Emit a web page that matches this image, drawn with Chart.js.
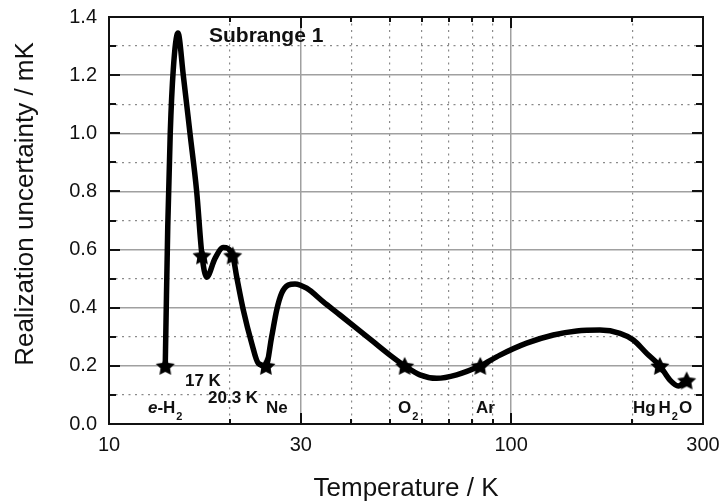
<!DOCTYPE html>
<html>
<head>
<meta charset="utf-8">
<script src="https://cdn.jsdelivr.net/npm/chart.js@4.4.0/dist/chart.umd.min.js"></script>
<style>
    html, body { margin: 0; padding: 0; background: #fff; }
    #chartWrap { width: 723px; height: 502px; }
</style>
</head>
<body>
<div id="chartWrap"><canvas id="incertidumbreChart" width="723" height="502"></canvas></div>
<script>
// Datos
const curveTemperatures = [13.8, 13.86, 14.0, 14.2, 14.45, 14.84, 15.30, 15.90, 16.52, 17.03,
    17.50, 18.35, 19.24, 20.3, 20.77, 21.58, 22.64, 23.50, 24.56, 25.38,
    26.12, 26.88, 27.92, 29.01, 31.01, 34.12, 37.53, 41.30, 45.41, 49.96,
    54.36, 59.33, 65.29, 73.19, 83.8, 93.8, 109.3, 127.3, 145.6, 166.3,
    186.5, 201.3, 217.3, 234.3, 248.3, 260.4, 273.16];
const curveUncertainties = [0.2, 0.35, 0.68, 1.0, 1.22, 1.345, 1.2, 1.0, 0.8, 0.58,
    0.505, 0.57, 0.607, 0.58, 0.507, 0.392, 0.278, 0.209, 0.2, 0.30,
    0.392, 0.45, 0.478, 0.482, 0.467, 0.42, 0.375, 0.329, 0.283, 0.237,
    0.2, 0.169, 0.157, 0.169, 0.2, 0.237, 0.278, 0.306, 0.32, 0.323,
    0.312, 0.289, 0.243, 0.2, 0.151, 0.131, 0.151];

const fixedPointTemperatures = [13.8, 17.03, 20.3, 24.56, 54.36, 83.8, 234.3, 273.16];
const fixedPointUncertainties = [0.2, 0.58, 0.58, 0.2, 0.2, 0.2, 0.2, 0.15];

const xTickValues = [10, 20, 30, 40, 50, 60, 70, 80, 90, 100, 200, 300];
const xTickLabels = ['10', '', '30', '', '', '', '', '', '', '100', '', '300'];
const yTickValues = [0, 0.1, 0.2, 0.3, 0.4, 0.5, 0.6, 0.7, 0.8, 0.9, 1.0, 1.1, 1.2, 1.3, 1.4];
const yTickLabels = ['0.0', '', '0.2', '', '0.4', '', '0.6', '', '0.8', '', '1.0', '', '1.2', '', '1.4'];

const xTitle = 'Temperature / K';
const yTitle = 'Realization uncertainty / mK';
const panelTitle = 'Subrange 1';

// Etiquetas de los puntos fijos (texto por tramos: normal, cursiva, subíndice)
const pointLabels = [
    { runs: [['e', 'i'], ['-H', ''], ['2', 's']], t: 12.5, u: 0.038 },
    { runs: [['17 K', '']], t: 15.45, u: 0.131 },
    { runs: [['20.3 K', '']], t: 17.63, u: 0.072 },
    { runs: [['Ne', '']], t: 24.57, u: 0.038 },
    { runs: [['O', ''], ['2', 's']], t: 52.3, u: 0.038 },
    { runs: [['Ar', '']], t: 81.8, u: 0.038 },
    { runs: [['Hg', '']], t: 200.9, u: 0.038 },
    { runs: [['H', ''], ['2', 's'], ['O', '']], t: 232.5, u: 0.038 }
];

const FONT = "'Liberation Sans', Arial, sans-serif";

const Grafico = {
    init() {
        const ctx = document.getElementById('incertidumbreChart');
        if (!ctx) return;
        Chart.defaults.font.family = FONT;
        Chart.defaults.color = '#111';

        new Chart(ctx, {
            type: 'line',
            data: this.getData(),
            options: this.getOptions(),
            plugins: [this.framePlugin()]
        });
    },

    makeStar(r) {
        const c = document.createElement('canvas');
        const s = Math.ceil(r * 2) + 2;
        c.width = s;
        c.height = s;
        const g = c.getContext('2d');
        g.beginPath();
        for (let i = 0; i < 10; i++) {
            const rad = i % 2 ? r * 0.5 : r;
            const a = -Math.PI / 2 + i * Math.PI / 5;
            g.lineTo(s / 2 + rad * Math.cos(a), s / 2 + 1 + rad * Math.sin(a));
        }
        g.closePath();
        g.fillStyle = '#000';
        g.fill();
        return c;
    },

    getData() {
        return {
            datasets: [{
                data: fixedPointTemperatures.map((t, i) => ({ x: t, y: fixedPointUncertainties[i] })),
                showLine: false,
                pointStyle: this.makeStar(10),
                pointRadius: 10,
                order: 0
            }, {
                data: curveTemperatures.map((t, i) => ({ x: t, y: curveUncertainties[i] })),
                borderColor: '#000',
                borderWidth: 5.5,
                pointRadius: 0,
                cubicInterpolationMode: 'monotone',
                fill: false,
                order: 1
            }]
        };
    },

    getOptions() {
        const isMinorX = v => xTickLabels[xTickValues.indexOf(v)] === '';
        const isMinorY = v => {
            const i = yTickValues.findIndex(y => Math.abs(y - v) < 1e-6);
            return yTickLabels[i] === '';
        };
        return {
            responsive: false,
            animation: false,
            layout: { padding: { top: 17, right: 20, left: 0, bottom: 0 } },
            plugins: { legend: { display: false }, tooltip: { enabled: false } },
            scales: {
                x: {
                    type: 'logarithmic',
                    min: 10,
                    max: 300,
                    afterBuildTicks: s => { s.ticks = xTickValues.map(v => ({ value: v })); },
                    afterFit: s => {
                        s.height = 78;
                        s.paddingLeft = 0;
                        s.paddingRight = 0;
                    },
                    ticks: {
                        autoSkip: false,
                        maxRotation: 0,
                        padding: 9,
                        font: { size: 20 },
                        callback: v => xTickLabels[xTickValues.indexOf(v)] || ''
                    },
                    grid: {
                        drawTicks: false,
                        color: c => (c.tick && isMinorX(c.tick.value)) ? '#8a8a8a' : '#a0a0a0',
                        lineWidth: c => (c.tick && isMinorX(c.tick.value)) ? 1.2 : 1.5
                    },
                    border: {
                        display: false,
                        dash: c => (c.tick && isMinorX(c.tick.value)) ? [2, 4.5] : []
                    }
                },
                y: {
                    min: 0,
                    max: 1.4,
                    afterBuildTicks: s => { s.ticks = yTickValues.map(v => ({ value: v })); },
                    afterFit: s => {
                        s.width = 109;
                        s.paddingTop = 0;
                        s.paddingBottom = 0;
                    },
                    ticks: {
                        autoSkip: false,
                        padding: 12,
                        font: { size: 20 },
                        callback: v => yTickLabels[yTickValues.findIndex(y => Math.abs(y - v) < 1e-6)] || ''
                    },
                    grid: {
                        drawTicks: false,
                        color: c => (c.tick && isMinorY(c.tick.value)) ? '#8a8a8a' : '#a0a0a0',
                        lineWidth: c => (c.tick && isMinorY(c.tick.value)) ? 1.2 : 1.5
                    },
                    border: {
                        display: false,
                        dash: c => (c.tick && isMinorY(c.tick.value)) ? [2, 4.5] : []
                    }
                }
            }
        };
    },

    // Marco, marcas interiores, títulos y etiquetas
    framePlugin() {
        return {
            id: 'marco',
            afterDraw(chart) {
                const { ctx, chartArea: a, scales: { x, y } } = chart;
                ctx.save();
                ctx.strokeStyle = '#111';
                ctx.lineWidth = 2;
                ctx.beginPath();
                xTickValues.forEach((v, i) => {
                    if (v === 10 || v === 300) return;
                    const px = Math.round(x.getPixelForValue(v));
                    const len = xTickLabels[i] ? 11 : 5;
                    ctx.moveTo(px, a.bottom);
                    ctx.lineTo(px, a.bottom - len);
                    ctx.moveTo(px, a.top);
                    ctx.lineTo(px, a.top + len);
                });
                yTickValues.forEach((v, i) => {
                    if (i === 0 || i === yTickValues.length - 1) return;
                    const py = Math.round(y.getPixelForValue(v));
                    const len = yTickLabels[i] ? 11 : 7;
                    ctx.moveTo(a.left, py);
                    ctx.lineTo(a.left + len, py);
                    ctx.moveTo(a.right, py);
                    ctx.lineTo(a.right - len, py);
                });
                ctx.stroke();
                ctx.strokeRect(a.left, a.top, a.right - a.left, a.bottom - a.top);

                // títulos de ejes
                ctx.fillStyle = '#111';
                ctx.font = '26px ' + FONT;
                ctx.textAlign = 'center';
                ctx.textBaseline = 'alphabetic';
                ctx.fillText(xTitle, (a.left + a.right) / 2, 496);
                ctx.save();
                ctx.translate(33, 204);
                ctx.rotate(-Math.PI / 2);
                ctx.fillText(yTitle, 0, 0);
                ctx.restore();

                // título del panel
                ctx.textAlign = 'left';
                ctx.font = 'bold 21px ' + FONT;
                ctx.fillText(panelTitle, x.getPixelForValue(17.73), y.getPixelForValue(1.314));

                // etiquetas de puntos fijos
                pointLabels.forEach(lbl => {
                    let px = x.getPixelForValue(lbl.t);
                    const py = y.getPixelForValue(lbl.u);
                    lbl.runs.forEach(([txt, st]) => {
                        if (st === 's') {
                            ctx.font = 'bold 11px ' + FONT;
                            ctx.fillText(txt, px + 1, py + 7);
                            px += ctx.measureText(txt).width + 2;
                        } else {
                            ctx.font = (st === 'i' ? 'italic ' : '') + 'bold 17px ' + FONT;
                            ctx.fillText(txt, px, py);
                            px += ctx.measureText(txt).width;
                        }
                    });
                });
                ctx.restore();
            }
        };
    }
};

document.addEventListener('DOMContentLoaded', () => {
    Grafico.init();
});
</script>
</body>
</html>
